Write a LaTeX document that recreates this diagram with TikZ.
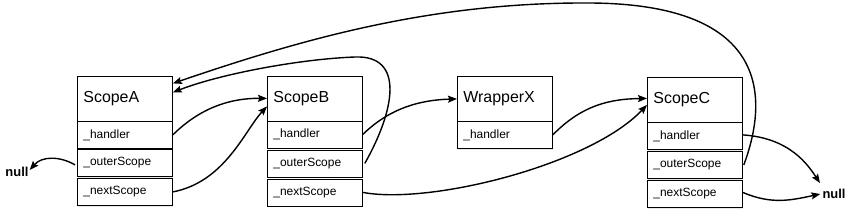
\documentclass[tikz,border=0pt]{standalone}
\usepackage{fontspec}
\setmainfont{Liberation Sans}
\usetikzlibrary{arrows.meta,shadows}
\begin{document}
\begin{tikzpicture}[x=1bp,y=-1bp,
  box/.style={draw, line width=0.8bp, fill=white, anchor=north west, inner xsep=6bp, inner ysep=0pt,
    text width=83bp, align=left, minimum width=95bp,
    drop shadow={shadow xshift=1bp, shadow yshift=-1.2bp, opacity=0.18}},
  hdr/.style={box, minimum height=45bp, font=\fontsize{16}{18}\selectfont},
  fld/.style={box, minimum height=27bp, font=\fontsize{12}{14}\selectfont},
  nul/.style={font=\bfseries\fontsize{13}{15}\selectfont, inner sep=0pt},
  link/.style={line width=1.4bp, -{Stealth[length=9bp,width=7bp,inset=1.5bp]}}]
\useasboundingbox (0,0) rectangle (849,217);

% ScopeA
\node[hdr] (A) at (77,76) {ScopeA};
\node[fld] (Ah) at (77,121) {\_handler};
\node[fld] (Ao) at (77,149) {\_outerScope};
\node[fld] (An) at (77,178) {\_nextScope};
% ScopeB
\node[hdr] (B) at (267,75.5) {ScopeB};
\node[fld] (Bh) at (267,120.5) {\_handler};
\node[fld] (Bo) at (267,149.5) {\_outerScope};
\node[fld] (Bn) at (267,178.5) {\_nextScope};
% WrapperX
\node[hdr] (X) at (457,76) {WrapperX};
\node[fld] (Xh) at (457,121) {\_handler};
% ScopeC
\node[hdr] (C) at (647,77) {ScopeC};
\node[fld] (Ch) at (647,122) {\_handler};
\node[fld] (Co) at (647,151) {\_outerScope};
\node[fld] (Cn) at (647,180) {\_nextScope};

\node[nul] (nl) at (17,172) {null};
\node[nul] (nr) at (834,194) {null};

% ScopeA links
\draw[link] (Ah.east) .. controls (200,108) and (230,98) .. (B.west);
\draw[link] (An.east) .. controls (225,182) and (245,130) .. ([yshift=-8bp]B.west);
\draw[link] ([xshift=-2bp,yshift=-2bp]Ao.west) .. controls (60,156) and (42,156) .. ([xshift=1bp,yshift=2bp]nl.east);
% ScopeB links
\draw[link] ([xshift=2bp]Bo.east) .. controls (395,110) and (405,55) .. (355,57)
  .. controls (300,59) and (220,74) .. ([yshift=6.5bp]A.east);
\draw[link] (Bh.east) .. controls (390,108) and (420,100) .. (X.west);
\draw[link] (Bn.east) .. controls (430,205) and (590,165) .. ([yshift=-5bp]C.west);
% WrapperX link
\draw[link] (Xh.east) .. controls (582,105) and (610,99) .. ([yshift=1.5bp]C.west);
% ScopeC links
\draw[link] ([xshift=1bp]Co.east) .. controls (768,100) and (772,4) .. (590,3)
  .. controls (430,2) and (300,40) .. ([yshift=15.5bp]A.east);
\draw[link] ([yshift=1bp]Ch.east) .. controls (790,138) and (808,165) .. ([xshift=-14bp,yshift=6bp]nr.north);
\draw[link] ([yshift=1.5bp]Cn.east) .. controls (772,205) and (792,200) .. ([xshift=-2bp]nr.west);
\end{tikzpicture}
\end{document}
